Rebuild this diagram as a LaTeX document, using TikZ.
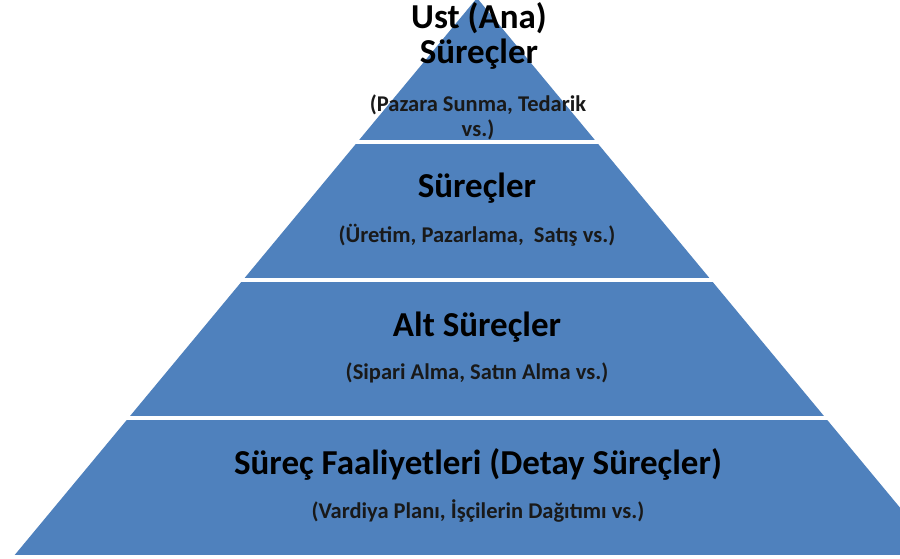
\documentclass[tikz,border=0pt]{standalone}
\usepackage{fontspec}
\setmainfont{Carlito}
\definecolor{layerblue}{HTML}{4F81BD}
\tikzset{
  title/.style={anchor=base, text=black, font=\fontsize{35}{38}\selectfont\bfseries, inner sep=0pt},
  subtitle/.style={anchor=base, text=black!90, font=\fontsize{22.5}{25}\selectfont\bfseries, inner sep=0pt},
  gap/.style={draw=white, line width=4pt}
}
\begin{document}
\begin{tikzpicture}[x=1pt,y=1pt]
  \useasboundingbox (0,0) rectangle (900,559);
  \fill[white] (0,0) rectangle (900,559);
  \begin{scope}
    \clip (0,0) rectangle (900,559);
    % pyramid body
    \coordinate (apex) at (477,561);
    \coordinate (bl) at (14.7,4);
    \coordinate (br) at (939.3,4);
    \fill[layerblue] (apex) -- (bl) -- (br) -- cycle;
    % white separators between the layers
    \draw[gap] (0,417) -- (900,417);
    \draw[gap] (0,279) -- (900,279);
    \draw[gap] (0,141) -- (900,141);
  \end{scope}
  % top layer
  \node[title] (t1a) at (479,530) {Ust (Ana)};
  \node[title] (t1b) at (479,495) {Süreçler};
  \node[subtitle] (s1a) at (478,447) {(Pazara Sunma, Tedarik};
  \node[subtitle] (s1b) at (478,422) {vs.)};
  % second layer
  \node[title] (t2) at (477,361) {Süreçler};
  \node[subtitle] (s2) at (477,316) {(Üretim, Pazarlama,\ \ Satış vs.)};
  % third layer
  \node[title] (t3) at (477,222) {Alt Süreçler};
  \node[subtitle] (s3) at (477,179) {(Sipari Alma, Satın Alma vs.)};
  % bottom layer
  \node[title] (t4) at (478,84) {Süreç Faaliyetleri (Detay Süreçler)};
  \node[subtitle] (s4) at (478,40) {(Vardiya Planı, İşçilerin Dağıtımı vs.)};
\end{tikzpicture}
\end{document}
